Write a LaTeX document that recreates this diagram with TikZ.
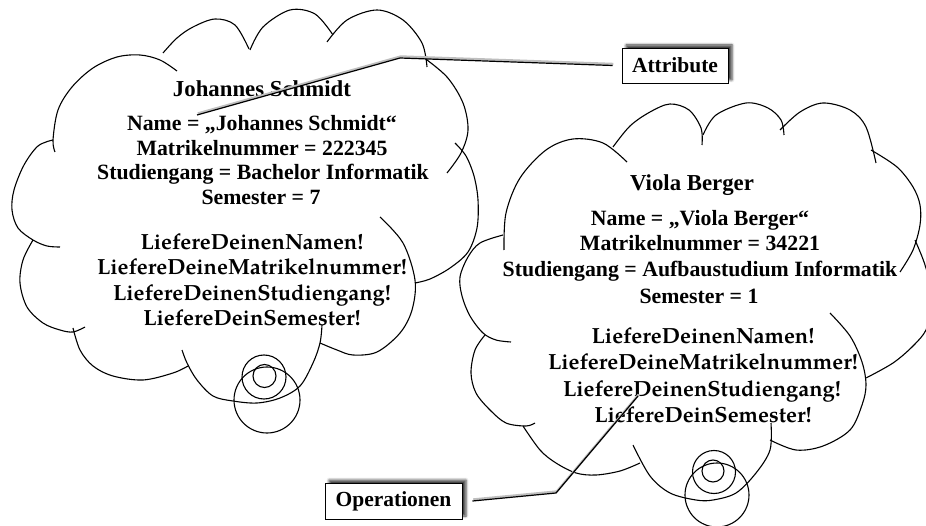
\documentclass[tikz,border=0pt]{standalone}
\usepackage{fontspec}
\setmainfont{Liberation Serif}
\newfontfamily\opsfont{TeX Gyre Pagella}
\usetikzlibrary{shadows.blur}
\tikzset{
  cloudline/.style={line width=1.1pt, smooth, tension=0.55},
  ttl/.style={font=\fontsize{22.8}{26}\selectfont\bfseries, anchor=base, inner sep=0pt},
  attr/.style={font=\fontsize{21.8}{24}\selectfont\bfseries, anchor=base, inner sep=0pt},
  oper/.style={font=\opsfont\fontsize{21.9}{24}\selectfont\bfseries, anchor=base, inner sep=0pt},
  labelbox/.style={draw, line width=0.9pt, fill=white, inner sep=0pt,
    font=\fontsize{21.5}{24}\selectfont\bfseries,
    blur shadow={shadow xshift=4pt, shadow yshift=3pt, shadow blur radius=2.5pt, shadow opacity=75}},
  conn/.style={line width=1.2pt,
    preaction={draw, black!25, line width=2.4pt, transform canvas={xshift=0.8pt, yshift=1.5pt}}},
  bubble/.style={line width=1.1pt}
}
\begin{document}
\begin{tikzpicture}[x=1pt, y=-1pt]
\useasboundingbox (0,0) rectangle (926,526);
\clip (0,0) rectangle (926,526);

% ---------- left cloud ----------
\draw[cloudline] plot coordinates {(55,152) (53,140) (58,110) (72,87) (93,68) (117,57) (140,55) (160,60) (177,71)};
\draw[cloudline] plot coordinates {(163,53) (177,38) (193,27) (215,19) (235,25) (249,49)};
\draw[cloudline] plot coordinates {(250,50) (263,27) (290,10) (315,14) (333,35)};
\draw[cloudline] plot coordinates {(327,42) (347,20) (377,10) (403,20) (422,43) (427,67)};
\draw[cloudline] plot coordinates {(423,57) (447,77) (463,103) (468,130) (461,153) (447,173)};
\draw[cloudline] plot coordinates {(455,143) (466,156) (474,176) (478,200) (477,228) (468,252) (450,268) (430,279) (415,283)};
\draw[cloudline] plot coordinates {(380,217) (403,243) (415,280) (412,310) (400,333) (377,352) (353,355) (337,350) (320,343)};
\draw[cloudline] plot coordinates {(322,325) (320,343) (313,363) (300,386) (280,398) (257,403) (233,401) (213,396) (197,380) (187,363) (182,350)};
\draw[cloudline] plot coordinates {(188,366) (173,373) (143,380) (113,376) (93,366) (80,350) (73,328)};
\draw[cloudline] plot coordinates {(33,240) (23,260) (20,283) (27,307) (43,323) (60,330) (73,332) (85,327)};
\draw[cloudline] plot coordinates {(53,140) (38,146) (24,165) (14,190) (12,210) (18,228) (33,240) (47,246) (60,247)};
\draw[bubble] (264.5,376) circle (11.5);
\draw[bubble] (264,377) circle (22);
\draw[bubble] (267,400) circle (33);

% ---------- right cloud ----------
\draw[cloudline] plot coordinates {(504,250) (506,213) (520,178) (546,150) (573,139) (603,143) (627,162)};
\draw[cloudline] plot coordinates {(613,147) (630,126) (650,112) (670,104) (689,110) (701,128) (702,145)};
\draw[cloudline] plot coordinates {(703,135) (716,115) (746,103) (768,108) (781,120) (784,135)};
\draw[cloudline] plot coordinates {(780,130) (800,112) (823,103) (850,110) (866,127) (876,163)};
\draw[cloudline] plot coordinates {(871,150) (897,167) (913,187) (920,205) (920,225) (913,250) (900,272)};
\draw[cloudline] plot coordinates {(915,240) (924,262) (930,285) (930,310) (926,330) (913,346) (893,363) (866,378)};
\draw[cloudline] plot coordinates {(830,313) (850,336) (862,362) (866,385) (862,405) (850,430) (823,446) (796,450) (770,440)};
\draw[cloudline] plot coordinates {(771,423) (770,450) (756,473) (736,493) (713,500) (696,500) (670,493) (650,476) (633,445)};
\draw[cloudline] plot coordinates {(523,426) (540,450) (556,463) (576,473) (596,475) (620,471) (640,463)};
\draw[cloudline] plot coordinates {(485,335) (475,350) (471,373) (476,393) (490,410) (506,423) (526,426) (535,423)};
\draw[cloudline] plot coordinates {(503,235) (480,243) (468,257) (460,277) (462,296) (470,316) (483,333) (496,340) (511,342)};
\draw[bubble] (713,471) circle (11);
\draw[bubble] (714,472) circle (21.5);
\draw[bubble] (717,495) circle (32);

% ---------- left texts ----------
\node[ttl]  (jtitle) at (262,97)    {Johannes Schmidt};
\node[attr] (jname)  at (262,131)   {Name = „Johannes Schmidt“};
\node[attr] (jmat)   at (262,155.5) {Matrikelnummer = 222345};
\node[attr] (jstud)  at (263,180)   {Studiengang = Bachelor Informatik};
\node[attr] (jsem)   at (261,204.5) {Semester = 7};
\node[oper] (jop1)   at (252,249.5) {LiefereDeinenNamen!};
\node[oper] (jop2)   at (252,275)   {LiefereDeineMatrikelnummer!};
\node[oper] (jop3)   at (252,300.5) {LiefereDeinenStudiengang!};
\node[oper] (jop4)   at (252,326)   {LiefereDeinSemester!};

% ---------- right texts ----------
\node[ttl]  (vtitle) at (692,191)   {Viola Berger};
\node[attr] (vname)  at (700,226)   {Name = „Viola Berger“};
\node[attr] (vmat)   at (700,251)   {Matrikelnummer = 34221};
\node[attr] (vstud)  at (700,277)   {Studiengang = Aufbaustudium Informatik};
\node[attr] (vsem)   at (699,303.5) {Semester = 1};
\node[oper] (vop1)   at (703,344)   {LiefereDeinenNamen!};
\node[oper] (vop2)   at (703,370)   {LiefereDeineMatrikelnummer!};
\node[oper] (vop3)   at (702,396)   {LiefereDeinenStudiengang!};
\node[oper] (vop4)   at (703,422)   {LiefereDeinSemester!};

% ---------- label boxes ----------
\node[labelbox, minimum width=106pt, minimum height=35pt] (attrbox) at (675,65.5) {Attribute};
\node[labelbox, minimum width=137pt, minimum height=36pt] (opbox) at (393.5,501) {Operationen};

\coordinate (attrtip) at (197,115);
\coordinate (attrbend) at (400,58);
\coordinate (optip) at (638,396);
\coordinate (opbend) at (556,493);
\draw[conn] (attrtip) -- (attrbend) -- ([xshift=-9pt]attrbox.west);
\draw[conn] ([xshift=10pt]opbox.east) -- (opbend) -- (optip);
\end{tikzpicture}
\end{document}
